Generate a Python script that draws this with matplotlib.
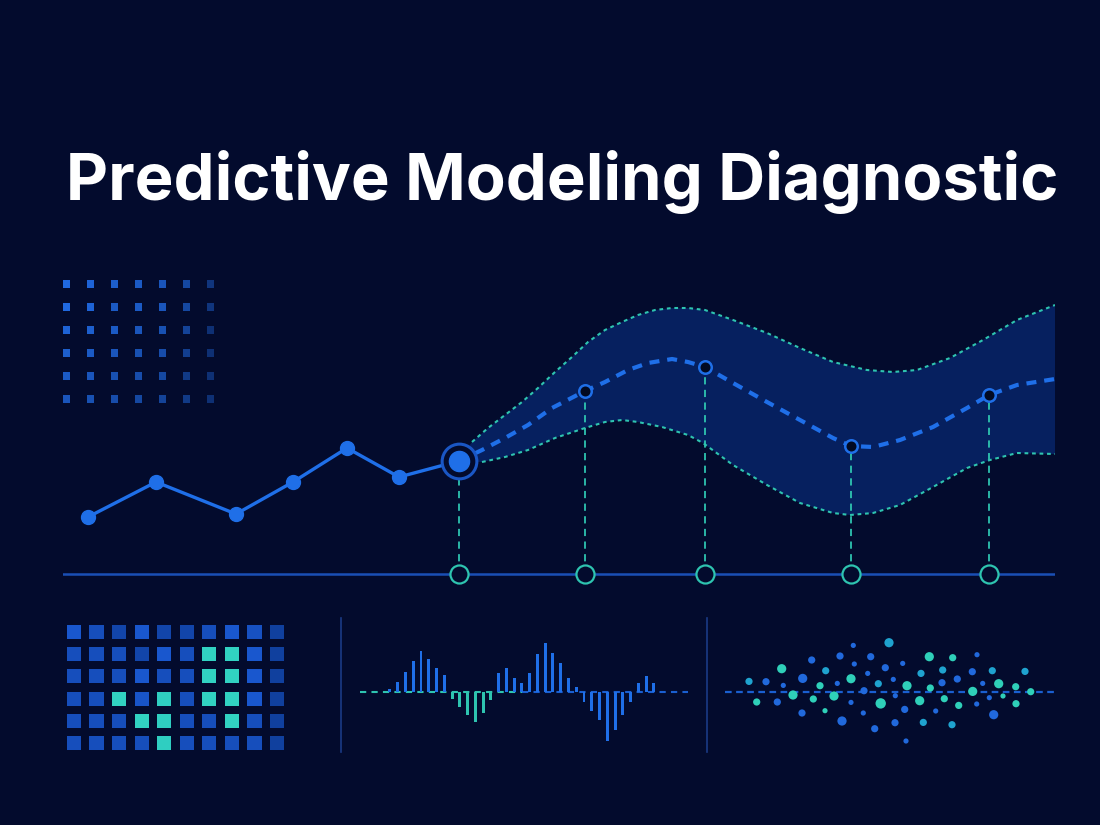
#!/usr/bin/env python3
import numpy as np
import matplotlib
matplotlib.use("Agg")
import matplotlib.pyplot as plt
from matplotlib.colors import LinearSegmentedColormap, ListedColormap

W, H = 1100, 825
BG = "#030b2d"
BLUE = "#1f6fe8"
TEAL = "#2ec4b0"
BAND = "#072262"

TITLE = "Predictive Modeling Diagnostic"

# observed history (x in time units, y in value units)
hist_x = [2.5, 9.3, 17.3, 23.0, 28.4, 33.6, 39.6]
hist_y = [5.7, 9.2, 6.0, 9.2, 12.6, 9.7, 11.3]

# forecast checkpoints
fc_x = [52.2, 64.2, 78.8, 92.6]
fc_y = [18.3, 20.7, 12.8, 17.9]

# forecast mean path
mean_x = [39.6, 41.9, 44.2, 46.5, 48.9, 52.2, 54.2, 56.5, 58.5, 60.9, 62.5,
          64.2, 67.0, 70.4, 73.7, 77.0, 78.8, 81.0, 83.7, 87.0, 90.4, 92.6,
          95.4, 99.2]
mean_y = [11.3, 12.4, 13.6, 14.9, 16.6, 18.3, 19.2, 20.4, 21.1, 21.5, 21.2,
          20.7, 19.1, 17.2, 15.4, 13.6, 12.8, 12.7, 13.4, 14.7, 16.6, 17.9,
          18.9, 19.5]

# prediction interval
upper_x = [39.6, 40.9, 42.5, 44.2, 45.9, 47.5, 49.2, 50.9, 52.5, 54.2, 55.9,
           57.5, 59.2, 60.9, 62.5, 64.2, 67.0, 70.4, 73.7, 77.0, 80.4, 83.0,
           85.4, 88.7, 92.0, 95.4, 99.2]
upper_y = [11.3, 13.2, 14.6, 15.9, 17.2, 18.6, 20.2, 21.7, 23.2, 24.4, 25.2,
           25.9, 26.4, 26.6, 26.6, 26.4, 25.4, 24.1, 22.6, 21.2, 20.4, 20.2,
           20.4, 21.6, 23.4, 25.4, 26.9]
lower_x = [39.6, 41.9, 44.2, 46.5, 49.2, 52.2, 54.2, 55.9, 57.5, 59.9, 62.5,
           64.0, 67.0, 70.4, 73.7, 77.0, 78.7, 81.0, 83.7, 87.0, 90.4, 92.7,
           95.4, 99.2]
lower_y = [11.3, 11.2, 11.7, 12.4, 13.6, 14.6, 15.2, 15.4, 15.2, 14.7, 13.9,
           13.1, 10.9, 8.9, 7.1, 6.1, 5.9, 6.1, 6.9, 8.7, 10.6, 11.4, 12.1,
           12.0]

# top-left dot grid intensity (6 rows x 7 cols)
grid_alpha = [
    [1.0, 0.95, 0.9, 0.85, 0.8, 0.65, 0.45],
    [1.0, 0.95, 0.85, 0.85, 0.8, 0.65, 0.45],
    [0.95, 0.9, 0.85, 0.8, 0.75, 0.6, 0.4],
    [0.9, 0.85, 0.8, 0.75, 0.7, 0.55, 0.4],
    [0.85, 0.8, 0.75, 0.7, 0.65, 0.5, 0.4],
    [0.8, 0.75, 0.7, 0.65, 0.6, 0.5, 0.4],
]

# residual heatmap (6 rows x 10 cols)
heat = [
    [0.6, 0.45, 0.3, 0.6, 0.3, 0.3, 0.45, 0.6, 0.5, 0.2],
    [0.45, 0.45, 0.45, 0.3, 0.6, 0.45, 0.95, 0.95, 0.6, 0.2],
    [0.45, 0.45, 0.45, 0.6, 0.45, 0.45, 0.95, 0.95, 0.6, 0.2],
    [0.45, 0.45, 0.95, 0.55, 0.9, 0.45, 0.95, 0.95, 0.6, 0.2],
    [0.45, 0.45, 0.45, 0.95, 0.9, 0.45, 0.45, 0.95, 0.45, 0.2],
    [0.45, 0.45, 0.45, 0.45, 0.9, 0.45, 0.45, 0.45, 0.45, 0.2],
]

# autocorrelation-style bars
wave = [2.7, 10, 20, 30.7, 40.7, 32.3, 23.3, 16.7, -7.3, -15.7, -23.3, -30,
        -21, -8.3, 18.3, 24, 13.3, 8.3, 18.3, 37.7, 49, 38.3, 28.3, 13.3, 5,
        -10, -19.3, -28.3, -49, -38.3, -23.3, -10, 8.3, 15.7, 9]
wave_teal = [8, 9, 10, 11, 12, 13]

# residual scatter: x, residual, colour group (0 blue, 1 cyan, 2 teal), size group
res_x = [138.3, 174, 96.7, 125, 155.7, 214.3, 237.7, 262, 66.7, 139.3, 187.7,
         110.7, 170.3, 227.7, 152.7, 206, 257.3, 277.3, 310, 34, 51, 87.7, 136,
         178.3, 122.3, 68.3, 105, 163.3, 192, 227, 242.3, 267.7, 283.7, 300.7,
         215.3, 149, 78, 119, 257.7, 315.7, 180.3, 98.3, 204.7, 229.3, 288,
         274.3, 41.7, 62.3, 136, 165.7, 243.7, 261.7, 301, 110, 189.7, 220.7,
         148.3, 87, 278.7, 127, 180, 208.3, 237, 159.7, 191]
res_y = [46.3, 49, 31.7, 35.7, 35, 35, 34, 37, 23, 27.7, 28.3, 21, 24, 21.7,
         18.3, 18.3, 20, 21, 20.3, 10.3, 10, 13.3, 13, 12.3, 8.3, 6.3, 6, 8, 6,
         9, 12.7, 8.3, 8, 5, 3.7, 1, -3.3, -4.3, 0.3, 0, -4, -7.3, -9, -7,
         -4.3, -6, -10.3, -10.3, -10.7, -11.7, -13.7, -12.3, -12, -19, -17.7,
         -19.3, -21.3, -21.3, -23, -29.3, -31, -30.7, -33, -37, -49.3]
res_c = [0, 1, 0, 0, 0, 2, 2, 0, 2, 0, 0, 1, 0, 1, 0, 1, 0, 1, 1, 1, 0, 0, 2,
         0, 0, 0, 2, 1, 2, 0, 0, 0, 2, 2, 2, 0, 2, 2, 2, 2, 0, 2, 2, 2, 2, 0,
         2, 0, 0, 2, 2, 0, 2, 2, 0, 0, 0, 0, 0, 0, 0, 1, 1, 0, 0]
res_s = [0, 2, 1, 1, 1, 2, 1, 0, 2, 0, 0, 1, 1, 1, 0, 1, 1, 1, 1, 1, 1, 2, 2,
         0, 0, 0, 1, 1, 2, 1, 1, 0, 2, 1, 1, 1, 2, 2, 2, 1, 0, 1, 2, 1, 0, 0,
         1, 1, 0, 3, 1, 0, 1, 0, 1, 0, 0, 1, 2, 2, 1, 1, 1, 1, 0]


def box(left, top, right, bottom):
    """pixel box -> figure fraction rect"""
    return [left / W, 1 - bottom / H, (right - left) / W, (bottom - top) / H]


def clean(ax):
    ax.set_facecolor("none")
    ax.set_xticks([])
    ax.set_yticks([])
    for s in ax.spines.values():
        s.set_visible(False)


def main_panel(fig):
    ax = fig.add_axes(box(63, 280, 1055, 590))
    clean(ax)
    ax.set_xlim(0, 99.2)
    ax.set_ylim(-1.6, 29.4)

    # interval band
    ax.fill(upper_x + lower_x[::-1], upper_y + lower_y[::-1],
            color=BAND, alpha=0.95, lw=0, zorder=1)
    ax.plot(upper_x[1:], upper_y[1:], color=TEAL, lw=1.5, ls=(0, (1.8, 1.8)), zorder=2)
    ax.plot(lower_x[1:], lower_y[1:], color=TEAL, lw=1.5, ls=(0, (1.8, 1.8)), zorder=2)
    ax.plot(mean_x, mean_y, color=BLUE, lw=3, ls=(0, (2.4, 1.9)), zorder=3)

    # baseline and drop lines
    ax.axhline(0, color="#1a4fb5", lw=1.8, zorder=2)
    drops_x = [hist_x[-1]] + fc_x
    drops_y = [hist_y[-1]] + fc_y
    for x, y in zip(drops_x, drops_y):
        ax.plot([x, x], [0, y], color=TEAL, lw=1.3, ls=(0, (4, 3)), zorder=2)
    ax.plot(drops_x, [0] * len(drops_x), ls="none", marker="o", ms=13,
            mfc=BG, mec=TEAL, mew=1.6, zorder=5)

    # history
    ax.plot(hist_x, hist_y, color=BLUE, lw=2.4, marker="o", ms=10, zorder=4)
    ax.plot(hist_x[-1:], hist_y[-1:], ls="none", marker="o", ms=25,
            mfc=BG, mec="#1a56c4", mew=2.2, zorder=5)
    ax.plot(hist_x[-1:], hist_y[-1:], ls="none", marker="o", ms=14.5,
            color=BLUE, zorder=6)

    # forecast checkpoints
    ax.plot(fc_x, fc_y, ls="none", marker="o", ms=9, mfc="#020a22",
            mec=BLUE, mew=1.8, zorder=6)


def dot_grid(fig):
    ax = fig.add_axes(box(54, 272.5, 223, 410.5))
    clean(ax)
    a = np.array(grid_alpha)
    rows, cols = np.indices(a.shape)
    ax.scatter(cols.ravel(), rows.ravel(), s=26, marker="s", color="#2069e0",
               alpha=a.ravel(), lw=0)
    ax.set_xlim(-0.5, 6.5)
    ax.set_ylim(5.5, -0.5)


def heat_panel(fig):
    ax = fig.add_axes(box(62.7, 620.9, 288.3, 754.1))
    clean(ax)
    cmap = LinearSegmentedColormap.from_list(
        "heat", [(0, "#0c3486"), (0.65, "#1a5ad4"), (0.75, "#1a5ad4"),
                 (0.8, "#2bc6bd"), (1, "#33d6c4")])
    v = np.array(heat)
    rows, cols = np.indices(v.shape)
    ax.scatter(cols.ravel(), rows.ravel(), c=v.ravel(), cmap=cmap, vmin=0,
               vmax=1, s=104, marker="s", lw=0)
    ax.set_xlim(-0.5, 9.5)
    ax.set_ylim(5.5, -0.5)


def wave_panel(fig):
    ax = fig.add_axes(box(341, 618, 707, 752))
    clean(ax)
    for side in ("left", "right"):
        ax.spines[side].set_visible(True)
        ax.spines[side].set_color("#1a3a85")
        ax.spines[side].set_linewidth(1.2)
    idx = np.arange(len(wave))
    colors = [TEAL if i in wave_teal else BLUE for i in idx]
    ax.bar(idx, wave, width=0.38, color=colors, zorder=3)
    ax.hlines(0, -3.9, 17, color=TEAL, lw=1.5, ls=(0, (3, 2.5)), zorder=2)
    ax.hlines(0, 17, 38.4, color="#1a5fd0", lw=1.5, ls=(0, (3, 2.5)), zorder=2)
    ax.set_xlim(-6.31, 40.85)
    ax.set_ylim(-60.3, 73.7)


def resid_panel(fig):
    ax = fig.add_axes(box(715, 630, 1060, 750))
    clean(ax)
    cmap = ListedColormap(["#2169dc", "#1fa3cf", "#2fd0b9"])
    sizes = np.array([14, 27, 44, 56])[np.array(res_s)]
    ax.hlines(0, 10, 340, color="#1a5fd0", lw=1.6, ls=(0, (3, 2)), zorder=1)
    ax.scatter(res_x, res_y, c=res_c, cmap=cmap, vmin=-0.5, vmax=2.5,
               s=sizes, lw=0, zorder=2)
    ax.set_xlim(0, 345)
    ax.set_ylim(-58.3, 61.7)


def make_plot():
    fig = plt.figure(figsize=(W / 100, H / 100), dpi=100, facecolor=BG)
    t = fig.text(562 / W, 1 - 200 / H, TITLE, ha="center", va="baseline",
                 color="white", fontsize=50, fontweight="bold",
                 family=["Inter", "DejaVu Sans"])
    fig.canvas.draw()
    w = t.get_window_extent().width
    t.set_fontsize(50 * 992 / w)

    dot_grid(fig)
    main_panel(fig)
    heat_panel(fig)
    wave_panel(fig)
    resid_panel(fig)

    fig.savefig("out.png", dpi=100, facecolor=BG)
    plt.close(fig)


if __name__ == "__main__":
    make_plot()
